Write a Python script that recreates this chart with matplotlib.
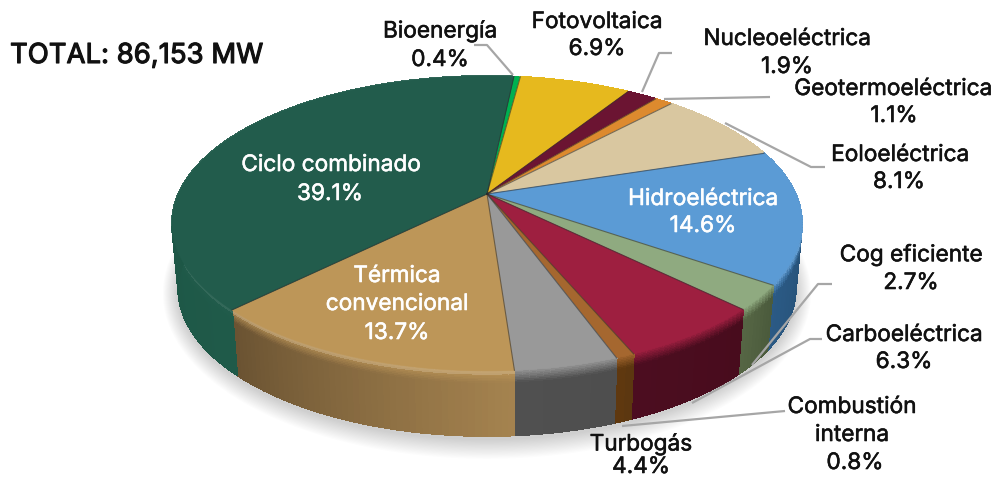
import numpy as np
import matplotlib
matplotlib.use("Agg")
import matplotlib.pyplot as plt
import matplotlib.patheffects as pe
from matplotlib.collections import PolyCollection
from matplotlib.colors import to_rgb

# ---- data ----
categories = ["Bioenergía", "Fotovoltaica", "Nucleoeléctrica", "Geotermoeléctrica",
              "Eoloeléctrica", "Hidroeléctrica", "Cog eficiente", "Carboeléctrica",
              "Combustión interna", "Turbogás", "Térmica convencional", "Ciclo combinado"]
values = [0.4, 6.9, 1.9, 1.1, 8.1, 14.6, 2.7, 6.3, 0.8, 4.4, 13.7, 39.1]
total_text = "TOTAL: 86,153 MW"

# ---- style ----
top_colors = ["#00b050", "#e6b91e", "#6b1432", "#dd8a2e", "#d9c7a0", "#5b9bd5",
              "#8faa80", "#9e1f40", "#a5672f", "#999999", "#bd9658", "#225c4c"]
side_colors_a = ["#00b050", "#e6b91e", "#6b1432", "#dd8a2e", "#d9c7a0", "#2b5a85",
                 "#566644", "#4c0d20", "#60390f", "#505050", "#6a5232", "#1a5040"]
side_colors_b = ["#00b050", "#e6b91e", "#6b1432", "#dd8a2e", "#d9c7a0", "#1f4565",
                 "#4a5a3c", "#480c1d", "#5a3610", "#4e4e4e", "#a5834f", "#1f5a49"]
highlights = [0, 0, 0, 0, 0, 0.06, 0, 0, 0, 0, 0.16, 0.08]
# layout in pixels
CX, CY = 487.0, 194.0
P = 0.20
A, B = 308.6, 141.5
START = 84.0
DEPTH = 65.0
BEVEL = 13.0

plt.rcParams["font.family"] = ["Inter", "DejaVu Sans"]
fig = plt.figure(figsize=(9.95, 4.79), dpi=100)
ax = fig.add_axes([0, 0, 1, 1])
ax.set_xlim(0, 995)
ax.set_ylim(479, 0)
ax.axis("off")


def project(theta_deg, r=1.0, d=0.0):
    th = np.radians(theta_deg)
    u, v = r * np.cos(th), r * np.sin(th)
    w = 1 + P * v
    sc = 1 - 0.02 * d / DEPTH
    return CX + sc * A * u / w, CY - B * v / w + d


fractions = np.cumsum([0] + values) / sum(values)
angles = START - 360 * fractions

# soft shadow
th_all = np.linspace(0, 360, 361)
for s in np.arange(16, 0, -1):
    x, y = project(th_all, 1.0, DEPTH)
    mx, my = x.mean(), y.mean()
    ax.fill(mx + (x - mx) * (1 + s / 320), my + (y - my) * (1 + s / 130) + 3,
            color="#000000", alpha=0.012, lw=0, zorder=1)

# side wall with bevel
polys, cols = [], []
for i in range(len(values)):
    t0, t1 = angles[i], angles[i + 1]
    n = max(2, int(abs(t0 - t1) / 1.0))
    ths = np.linspace(t0, t1, n + 1)
    top = np.array(to_rgb(top_colors[i]))
    sa, sb = np.array(to_rgb(side_colors_a[i])), np.array(to_rgb(side_colors_b[i]))
    ds = np.r_[np.linspace(0, BEVEL, 9), DEPTH]
    for j in range(n):
        f = (j + 0.5) / n
        side = sb * (1 - f) + sa * f
        for k in range(len(ds) - 1):
            x0, y0 = project(ths[j], 1, ds[k])
            x1, y1 = project(ths[j + 1], 1, ds[k])
            x2, y2 = project(ths[j + 1], 1, ds[k + 1])
            x3, y3 = project(ths[j], 1, ds[k + 1])
            t = (k + 0.5) / (len(ds) - 2) if k < len(ds) - 2 else 1.0
            c = top * (1 - t) + side * t
            if k < 3:
                c = c + highlights[i] * (1 - c)
            polys.append([(x0, y0), (x1, y1), (x2, y2), (x3, y3)])
            cols.append(tuple(np.clip(c, 0, 1)))
ax.add_collection(PolyCollection(polys, facecolors=cols, edgecolors=cols, linewidths=0.8,
                                 antialiaseds=False, zorder=2))

# top faces
for i in range(len(values)):
    ths = np.linspace(angles[i], angles[i + 1], max(3, int(abs(angles[i] - angles[i + 1]) * 2)))
    x, y = project(ths)
    ax.fill(np.r_[CX, x], np.r_[CY, y], facecolor=top_colors[i], edgecolor=top_colors[i], lw=0.4, zorder=3)
for a in angles[:-1]:
    x, y = project(a)
    ax.plot([CX, x], [CY, y], color="#2a2a2a", alpha=0.55, lw=0.8, zorder=3.5)

# leader lines
leaders = [
    [(513, 75), (487, 45), (474, 45)],
    [(642, 92), (659, 53), (672, 53)],
    [(664, 99), (770, 97)],
    [(725, 123), (811, 167), (825, 167)],
    [(752, 365), (818, 284), (832, 284)],
    [(692, 403), (810, 339), (822, 339)],
    [(622, 426), (785, 411)],
]
for pts in leaders:
    ax.plot(*zip(*pts), color="#a6a6a6", lw=1.6, zorder=4, solid_capstyle="butt")

# labels
FS = 16.3
dark = "#111111"
labels = [
    ("Bioenergía", 440, 31, dark), ("0.4%", 440, 60, dark),
    ("Fotovoltaica", 597, 22, dark), ("6.9%", 597, 49, dark),
    ("Nucleoeléctrica", 787, 39, dark), ("1.9%", 787, 67, dark),
    ("Geotermoeléctrica", 893, 89, dark), ("1.1%", 894, 116, dark),
    ("Eoloeléctrica", 900, 155, dark), ("8.1%", 899, 182, dark),
    ("Hidroeléctrica", 703, 199, "white"), ("14.6%", 703, 226, "white"),
    ("Cog eficiente", 911, 255, dark), ("2.7%", 911, 283, dark),
    ("Carboeléctrica", 904, 335, dark), ("6.3%", 904, 362, dark),
    ("Combustión", 852, 407, dark), ("interna", 852, 435, dark), ("0.8%", 855, 463, dark),
    ("Turbogás", 641, 444, dark), ("4.4%", 641, 467, dark),
    ("Ciclo combinado", 331, 165, "white"), ("39.1%", 330, 194, "white"),
    ("Térmica", 397, 276, "white"), ("convencional", 397, 304, "white"), ("13.7%", 397, 333, "white"),
]
for s, x, y, c in labels:
    ax.text(x, y, s, ha="center", va="center", fontsize=FS, color=c, zorder=5,
            path_effects=[pe.withStroke(linewidth=0.4, foreground=c)])
ax.text(10, 56, total_text, ha="left", va="center", fontsize=19.8, color=dark, zorder=5,
        path_effects=[pe.withStroke(linewidth=0.8, foreground=dark)])

fig.savefig("out.png", dpi=100)
